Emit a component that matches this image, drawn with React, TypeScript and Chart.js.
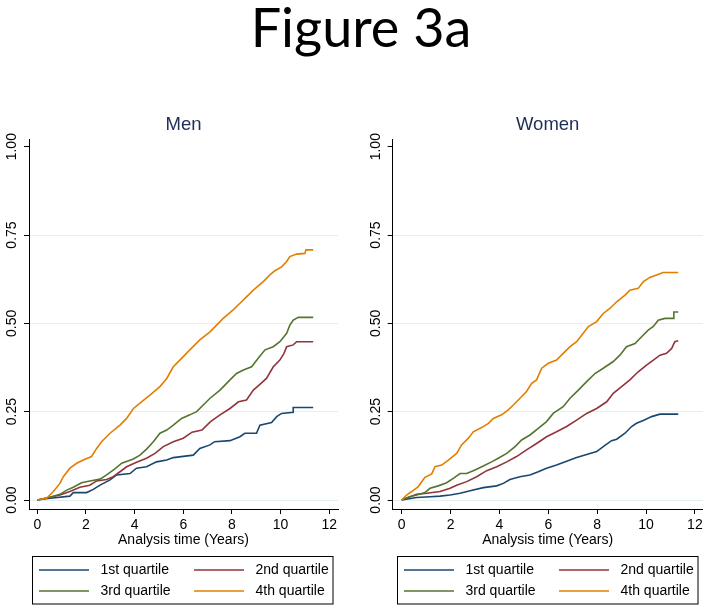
import React, { useEffect, useRef } from "react";
import { Chart, registerables } from "chart.js";

Chart.register(...registerables);

// ---------- DATA ----------
const FIGURE_TITLE = "Figure 3a";
const PANEL_TITLES = ["Men", "Women"];
const X_AXIS_TITLE = "Analysis time (Years)";
const QUARTILES = ["1st quartile", "2nd quartile", "3rd quartile", "4th quartile"];
const Y_TICK_LABELS = ["0.00", "0.25", "0.50", "0.75", "1.00"];

// Men: [time (years), cumulative incidence]
const MEN_Q1: [number, number][] = [
  [0, 0], [0.52, 0.005], [1.34, 0.011], [1.48, 0.021], [2.03, 0.021], [2.3, 0.03], [2.58, 0.042],
  [2.99, 0.057], [3.26, 0.071], [3.81, 0.075], [4.08, 0.09], [4.49, 0.094], [4.9, 0.108], [5.32, 0.113],
  [5.59, 0.12], [6.41, 0.127], [6.68, 0.146], [7.1, 0.156], [7.29, 0.165], [7.92, 0.168], [8.33, 0.179],
  [8.53, 0.189], [9.01, 0.189], [9.15, 0.212], [9.63, 0.219], [9.84, 0.236], [10.04, 0.245],
  [10.52, 0.248], [10.52, 0.262], [11.34, 0.262],
];
const MEN_Q2: [number, number][] = [
  [0, 0], [0.52, 0.008], [0.93, 0.014], [1.34, 0.024], [1.75, 0.036], [2.16, 0.042], [2.44, 0.054],
  [2.85, 0.058], [3.12, 0.066], [3.4, 0.08], [3.67, 0.094], [4.08, 0.107], [4.49, 0.118], [4.84, 0.132],
  [5.18, 0.151], [5.59, 0.165], [6.0, 0.175], [6.36, 0.192], [6.77, 0.198], [7.12, 0.222], [7.51, 0.241],
  [7.92, 0.259], [8.27, 0.278], [8.6, 0.283], [8.88, 0.311], [9.08, 0.323], [9.42, 0.344], [9.7, 0.377],
  [9.97, 0.396], [10.14, 0.415], [10.25, 0.434], [10.52, 0.439], [10.66, 0.448], [11.34, 0.448],
];
const MEN_Q3: [number, number][] = [
  [0, 0], [0.52, 0.008], [0.93, 0.016], [1.21, 0.028], [1.48, 0.036], [1.82, 0.049], [2.16, 0.054],
  [2.58, 0.059], [2.85, 0.071], [3.19, 0.088], [3.47, 0.104], [3.95, 0.116], [4.22, 0.127], [4.49, 0.144],
  [4.77, 0.165], [5.04, 0.189], [5.32, 0.198], [5.59, 0.212], [5.93, 0.231], [6.27, 0.241], [6.55, 0.25],
  [6.82, 0.269], [7.1, 0.288], [7.51, 0.311], [7.92, 0.34], [8.19, 0.358], [8.47, 0.368], [8.81, 0.377],
  [9.08, 0.401], [9.36, 0.425], [9.7, 0.434], [9.97, 0.448], [10.25, 0.472], [10.38, 0.495],
  [10.52, 0.509], [10.73, 0.517], [11.34, 0.517],
];
const MEN_Q4: [number, number][] = [
  [0, 0], [0.38, 0.005], [0.66, 0.024], [0.93, 0.047], [1.07, 0.066], [1.34, 0.09], [1.62, 0.104],
  [1.89, 0.113], [2.23, 0.123], [2.44, 0.146], [2.64, 0.165], [2.99, 0.189], [3.4, 0.212], [3.67, 0.231],
  [3.95, 0.259], [4.22, 0.274], [4.63, 0.297], [5.04, 0.321], [5.32, 0.344], [5.59, 0.377], [5.93, 0.401],
  [6.27, 0.425], [6.68, 0.453], [7.1, 0.476], [7.37, 0.495], [7.64, 0.514], [8.05, 0.538], [8.33, 0.557],
  [8.6, 0.575], [8.88, 0.594], [9.29, 0.618], [9.56, 0.637], [9.77, 0.649], [10.04, 0.66], [10.25, 0.675],
  [10.38, 0.689], [10.66, 0.696], [11.0, 0.698], [11.04, 0.708], [11.34, 0.708],
];

// Women
const WOMEN_Q1: [number, number][] = [
  [0, 0], [0.61, 0.007], [1.16, 0.009], [1.57, 0.011], [1.98, 0.014], [2.39, 0.019], [2.8, 0.026],
  [3.34, 0.035], [3.89, 0.04], [4.16, 0.047], [4.43, 0.058], [4.84, 0.066], [5.25, 0.071], [5.59, 0.08],
  [5.93, 0.09], [6.34, 0.099], [6.75, 0.11], [7.16, 0.12], [7.57, 0.129], [7.98, 0.137], [8.25, 0.151],
  [8.59, 0.168], [8.8, 0.172], [9.14, 0.189], [9.41, 0.208], [9.61, 0.217], [9.89, 0.225], [10.23, 0.236],
  [10.57, 0.243], [11.32, 0.243],
];
const WOMEN_Q2: [number, number][] = [
  [0, 0], [0.34, 0.009], [0.61, 0.016], [1.02, 0.019], [1.57, 0.024], [1.98, 0.033], [2.25, 0.042],
  [2.66, 0.052], [3.07, 0.066], [3.48, 0.083], [3.89, 0.094], [4.3, 0.108], [4.7, 0.123], [5.11, 0.142],
  [5.52, 0.16], [5.93, 0.179], [6.34, 0.193], [6.75, 0.208], [7.16, 0.226], [7.57, 0.245], [7.98, 0.259],
  [8.39, 0.278], [8.66, 0.302], [9.0, 0.321], [9.34, 0.34], [9.68, 0.363], [10.02, 0.382], [10.3, 0.396],
  [10.57, 0.41], [10.84, 0.415], [11.05, 0.429], [11.18, 0.448], [11.32, 0.451],
];
const WOMEN_Q3: [number, number][] = [
  [0, 0], [0.27, 0.008], [0.61, 0.014], [0.95, 0.021], [1.16, 0.033], [1.5, 0.04], [1.84, 0.049],
  [2.11, 0.061], [2.39, 0.075], [2.66, 0.075], [3.0, 0.085], [3.34, 0.096], [3.68, 0.108], [3.95, 0.118],
  [4.3, 0.132], [4.64, 0.151], [4.91, 0.17], [5.25, 0.184], [5.59, 0.203], [5.93, 0.222], [6.2, 0.245],
  [6.61, 0.264], [6.89, 0.288], [7.23, 0.311], [7.57, 0.335], [7.91, 0.358], [8.25, 0.373], [8.66, 0.392],
  [8.93, 0.41], [9.2, 0.434], [9.55, 0.443], [9.82, 0.462], [10.09, 0.481], [10.3, 0.491], [10.5, 0.509],
  [10.77, 0.514], [11.11, 0.514], [11.14, 0.532], [11.32, 0.532],
];
const WOMEN_Q4: [number, number][] = [
  [0, 0], [0.2, 0.014], [0.41, 0.024], [0.68, 0.038], [0.95, 0.064], [1.23, 0.074], [1.36, 0.094],
  [1.64, 0.099], [1.91, 0.113], [2.25, 0.132], [2.45, 0.156], [2.73, 0.175], [2.93, 0.193], [3.27, 0.205],
  [3.55, 0.217], [3.75, 0.231], [4.09, 0.241], [4.36, 0.255], [4.57, 0.269], [4.84, 0.288], [5.11, 0.307],
  [5.32, 0.33], [5.52, 0.34], [5.73, 0.373], [6.0, 0.387], [6.34, 0.396], [6.61, 0.415], [6.89, 0.434],
  [7.16, 0.448], [7.43, 0.472], [7.64, 0.491], [7.98, 0.505], [8.25, 0.528], [8.52, 0.542], [8.8, 0.561],
  [9.14, 0.58], [9.34, 0.594], [9.68, 0.599], [9.89, 0.618], [10.16, 0.63], [10.43, 0.637], [10.7, 0.644],
  [11.32, 0.644],
];

// ---------- STYLE ----------
const COLORS = ["#1a476f", "#90353b", "#55752f", "#e37e00"];
const FONT = '"Liberation Sans", Arial, Helvetica, sans-serif';
const W = 710;
const H = 611;

type PanelCfg = {
  title: string;
  series: [number, number][][];
  left: number; // plot left (y axis) px
  right: number; // plot right px
  xMin: number;
  xMax: number;
  legendX: number;
  figureTitle?: string;
};

const PANELS: PanelCfg[] = [
  { title: PANEL_TITLES[0], series: [MEN_Q1, MEN_Q2, MEN_Q3, MEN_Q4], left: 29, right: 338, xMin: -0.341, xMax: 12.36, legendX: 32.5, figureTitle: FIGURE_TITLE },
  { title: PANEL_TITLES[1], series: [WOMEN_Q1, WOMEN_Q2, WOMEN_Q3, WOMEN_Q4], left: 392.7, right: 702.7, xMin: -0.368, xMax: 12.32, legendX: 397.5 },
];

const PLOT_TOP = 139;
const PLOT_BOTTOM = 509;
const Y_MIN = -0.02547;
const Y_MAX = 1.0218;
const Y_AXIS_W = 10;
const X_AXIS_H = 40;

const decorPlugin = {
  id: "decor",
  afterDraw(chart: any, _args: any, opts: any) {
    const { ctx, chartArea, scales } = chart;
    ctx.save();
    // rotated y tick labels
    const ys = scales.y;
    ctx.fillStyle = "#000";
    ctx.font = `14px ${FONT}`;
    ctx.textAlign = "center";
    ctx.textBaseline = "middle";
    ys.ticks.forEach((t: any, i: number) => {
      const py = ys.getPixelForValue(t.value);
      ctx.save();
      ctx.translate(chartArea.left - 16.4, py);
      ctx.rotate(-Math.PI / 2);
      ctx.fillText(Y_TICK_LABELS[i] ?? t.value.toFixed(2), 0, 0);
      ctx.restore();
    });
    // panel title
    ctx.fillStyle = "#1f2d57";
    ctx.font = `18.5px ${FONT}`;
    ctx.fillText(opts.title, (chartArea.left + chartArea.right) / 2, 125);
    // figure title
    if (opts.figureTitle) {
      ctx.fillStyle = "#000";
      ctx.font = `54px Lato, "Open Sans", sans-serif`;
      ctx.textBaseline = "alphabetic";
      ctx.fillText(opts.figureTitle, 361, 46.7);
    }
    // legend box
    const lx = opts.legendX;
    const top = 556.5;
    ctx.strokeStyle = "#000";
    ctx.lineWidth = 1;
    ctx.strokeRect(lx, top, 300.5, 47.5);
    const cols = [
      { line: 6.5, text: 68 },
      { line: 161.5, text: 223 },
    ];
    const rows = [570, 591];
    ctx.font = `14px ${FONT}`;
    ctx.textAlign = "left";
    ctx.textBaseline = "middle";
    chart.data.datasets.forEach((ds: any, i: number) => {
      const c = cols[i % 2];
      const ry = rows[Math.floor(i / 2)];
      ctx.strokeStyle = ds.borderColor;
      ctx.lineWidth = 1.3;
      ctx.beginPath();
      ctx.moveTo(lx + c.line, ry);
      ctx.lineTo(lx + c.line + 50, ry);
      ctx.stroke();
      ctx.fillStyle = "#000";
      ctx.fillText(ds.label, lx + c.text, ry);
    });
    ctx.restore();
  },
};

function Panel({ cfg }: { cfg: PanelCfg }) {
  const ref = useRef<HTMLCanvasElement | null>(null);
  useEffect(() => {
    if (!ref.current) return;
    const chart = new Chart(ref.current, {
      type: "line",
      data: {
        datasets: cfg.series.map((s, i) => ({
          label: QUARTILES[i],
          data: s.map(([x, y]) => ({ x, y })),
          borderColor: COLORS[i],
          backgroundColor: COLORS[i],
          borderWidth: 1.6,
          pointRadius: 0,
          tension: 0,
          fill: false,
          order: 3 - i,
        })),
      },
      plugins: [decorPlugin],
      options: {
        responsive: false,
        animation: false,
        events: [],
        layout: {
          padding: {
            left: cfg.left - Y_AXIS_W,
            right: W - cfg.right,
            top: PLOT_TOP,
            bottom: H - PLOT_BOTTOM - X_AXIS_H,
          },
        },
        scales: {
          x: {
            type: "linear",
            min: cfg.xMin,
            max: cfg.xMax,
            afterFit: (s: any) => {
              s.height = X_AXIS_H;
            },
            ticks: {
              stepSize: 2,
              includeBounds: false,
              autoSkip: false,
              maxRotation: 0,
              padding: 3,
              color: "#000",
              font: { family: FONT, size: 14 },
              callback: (v: any) => String(v),
            },
            grid: {
              drawOnChartArea: false,
              drawTicks: true,
              tickLength: 5,
              tickColor: "#000",
            },
            border: { display: true, color: "#000", width: 1 },
            title: {
              display: true,
              text: X_AXIS_TITLE,
              color: "#000",
              font: { family: FONT, size: 14 },
              padding: { top: 0, bottom: 0 },
            },
          },
          y: {
            type: "linear",
            min: Y_MIN,
            max: Y_MAX,
            afterFit: (s: any) => {
              s.width = Y_AXIS_W;
            },
            ticks: {
              stepSize: 0.25,
              includeBounds: false,
              display: false,
            },
            grid: {
              drawTicks: true,
              tickLength: 5,
              tickColor: "#000",
              color: (c: any) => (c.tick && c.tick.value > 0.9 ? "rgba(0,0,0,0)" : "#e4eff0"),
              lineWidth: 1,
            },
            border: { display: true, color: "#000", width: 1 },
          },
        },
        plugins: {
          legend: { display: false },
          tooltip: { enabled: false },
          title: { display: false },
          // @ts-ignore
          decor: { title: cfg.title, legendX: cfg.legendX, figureTitle: cfg.figureTitle },
        },
      } as any,
    });
    return () => chart.destroy();
  }, [cfg]);
  return (
    <canvas
      ref={ref}
      width={W}
      height={H}
      style={{ position: "absolute", left: 0, top: 0, width: W, height: H }}
    />
  );
}

export default function App() {
  useEffect(() => {
    document.body.style.margin = "0";
    document.body.style.background = "#fff";
  }, []);
  return (
    <div style={{ position: "relative", width: W, height: H, background: "#fff" }}>
      {PANELS.map((p, i) => (
        <Panel key={i} cfg={p} />
      ))}
    </div>
  );
}
